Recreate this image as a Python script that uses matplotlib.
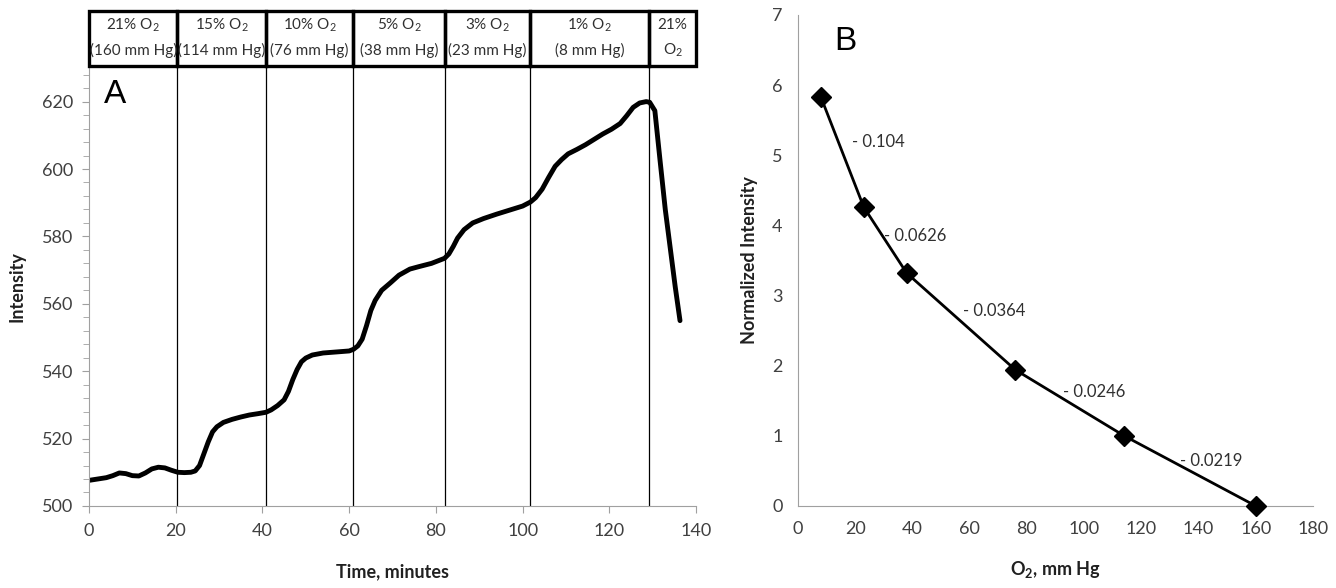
import matplotlib
matplotlib.use("Agg")
import matplotlib.pyplot as plt
from matplotlib.patches import Rectangle
from matplotlib.ticker import MultipleLocator

plt.rcParams['font.family'] = ['Lato', 'DejaVu Sans']
plt.rcParams['mathtext.fontset'] = 'custom'
plt.rcParams['mathtext.rm'] = 'Lato'
plt.rcParams['mathtext.bf'] = 'Lato:bold'
plt.rcParams['mathtext.default'] = 'regular'

# ---- panel A data ----
time_min = [0, 2, 4, 5.5, 7, 8.5, 10, 11.5, 13, 14.5, 16, 17.5, 19, 20.5, 22, 23.5,
            24.5, 25.5, 26.5, 27.5, 28.5, 29.5, 31, 33, 35, 37, 39, 40.8,
            42, 43.5, 45, 46, 47, 48, 49, 50, 51.5, 54, 57, 60, 61,
            62, 63, 64, 65, 66, 67.5, 69.5, 71.5, 74, 76, 79, 82,
            83, 84, 85, 86.5, 88.5, 91, 94, 97, 100, 101.8,
            103, 104.5, 106, 107.5, 109, 110.5, 112.5, 114.5, 116.5, 118.5, 120.5,
            122.5, 124, 125.5, 127, 128.5, 129.3,
            130.5, 131.7, 132.9, 134, 135.2, 136.3]
intensity = [507.6, 508.0, 508.4, 509.0, 509.8, 509.6, 509.0, 508.9, 509.8, 511.0, 511.5, 511.3, 510.6, 510.0, 509.9, 510.0,
             510.4, 512.0, 515.5, 519.0, 522.0, 523.5, 524.8, 525.7, 526.4, 527.0, 527.4, 527.8,
             528.5, 529.8, 531.5, 534.0, 537.5, 540.5, 542.8, 543.9, 544.8, 545.4, 545.7, 546.0, 546.5,
             547.5, 549.5, 553.5, 558.0, 561.0, 564.0, 566.2, 568.5, 570.3, 571.0, 572.0, 573.5,
             574.8, 577.0, 579.5, 582.0, 584.0, 585.3, 586.6, 587.8, 589.0, 590.2,
             591.5, 594.0, 597.5, 600.8, 602.8, 604.5, 605.8, 607.2, 608.8, 610.4, 611.8,
             613.5, 615.8, 618.3, 619.6, 620.0, 619.8,
             617.3, 602.5, 588.0, 577.0, 565.0, 555.0]

switch_times = [20.4, 40.8, 61, 82, 101.8, 129.2]
box_edges = [0, 20.4, 40.8, 61, 82, 101.8, 129.2, 140]
box_top = ['21% O$_2$', '15% O$_2$', '10% O$_2$', '5% O$_2$', '3% O$_2$', '1% O$_2$', '21%']
box_bottom = ['(160 mm Hg)', '(114 mm Hg)', '(76 mm Hg)', '(38 mm Hg)', '(23 mm Hg)', '(8 mm Hg)', 'O$_2$']

# ---- panel B data ----
o2_mmhg = [8, 23, 38, 76, 114, 160]
norm_int = [5.83, 4.26, 3.32, 1.94, 1.00, 0.0]
slope_labels = ['- 0.104', '- 0.0626', '- 0.0364', '- 0.0246', '- 0.0219']
slope_pos = [(28, 5.19), (41, 3.85), (68.5, 2.78), (103.5, 1.63), (144.5, 0.64)]

tick_col = '#404040'
spine_col = '#a0a0a0'

fig = plt.figure(figsize=(13.36, 5.88), dpi=100)

# panel A
ax1 = fig.add_axes([0.0666, 0.1395, 0.4544, 0.745])
ax1.plot(time_min, intensity, color='black', lw=3.5, solid_capstyle='round')
for t in switch_times:
    ax1.axvline(t, color='black', lw=0.9)
ax1.set_xlim(0, 140)
ax1.set_ylim(500, 630)
ax1.xaxis.set_major_locator(MultipleLocator(20))
ax1.yaxis.set_major_locator(MultipleLocator(20))
ax1.yaxis.set_minor_locator(MultipleLocator(4))
for s in ['top', 'right']:
    ax1.spines[s].set_visible(False)
for s in ['left', 'bottom']:
    ax1.spines[s].set_color(spine_col)
ax1.tick_params(axis='both', which='both', color=spine_col, labelcolor=tick_col,
                labelsize=13, direction='out')
ax1.tick_params(axis='x', length=5, pad=7)
ax1.tick_params(axis='y', which='major', length=5, pad=6)
ax1.tick_params(axis='y', which='minor', length=4)
ax1.set_xlabel('Time, minutes', fontsize=13, fontweight='bold', labelpad=18, color='#202020')
ax1.set_ylabel('Intensity', fontsize=13, fontweight='bold', labelpad=12, color='#202020')
ax1.text(3.5, 622, 'A', fontsize=24, family='Liberation Sans', va='center', ha='left')

# header boxes above panel A
axh = fig.add_axes([0.0666, 0.8878, 0.4544, 0.0935])
axh.set_xlim(0, 140)
axh.set_ylim(0, 1)
axh.axis('off')
for i in range(len(box_top)):
    x0, x1 = box_edges[i], box_edges[i + 1]
    axh.add_patch(Rectangle((x0, 0), x1 - x0, 1, fill=False, edgecolor='black',
                            lw=2.4, clip_on=False))
    xc = (x0 + x1) / 2
    axh.text(xc, 0.74, box_top[i], ha='center', va='center', fontsize=11, color='#303030')
    axh.text(xc, 0.29, box_bottom[i], ha='center', va='center', fontsize=11, color='#303030')

# panel B
ax2 = fig.add_axes([0.5973, 0.1395, 0.3855, 0.835])
ax2.plot(o2_mmhg, norm_int, color='black', lw=2, marker='D', markersize=10,
         markerfacecolor='black', markeredgecolor='black', clip_on=False, zorder=3)
for lab, (px, py) in zip(slope_labels, slope_pos):
    ax2.text(px, py, lab, ha='center', va='center', fontsize=12, color='#303030')
ax2.set_xlim(0, 180)
ax2.set_ylim(0, 7)
ax2.xaxis.set_major_locator(MultipleLocator(20))
ax2.yaxis.set_major_locator(MultipleLocator(1))
for s in ['top', 'right']:
    ax2.spines[s].set_visible(False)
for s in ['left', 'bottom']:
    ax2.spines[s].set_color(spine_col)
ax2.tick_params(axis='both', length=0, labelcolor=tick_col, labelsize=13)
ax2.tick_params(axis='x', pad=11)
ax2.tick_params(axis='y', pad=11)
ax2.set_xlabel('O$_2$, mm Hg', fontsize=13, fontweight='bold', labelpad=16, color='#202020')
ax2.set_ylabel('Normalized Intensity', fontsize=13, fontweight='bold', labelpad=10, color='#202020')
ax2.text(12.5, 6.62, 'B', fontsize=24, family='Liberation Sans', va='center', ha='left')

fig.savefig('out.png', dpi=100)
